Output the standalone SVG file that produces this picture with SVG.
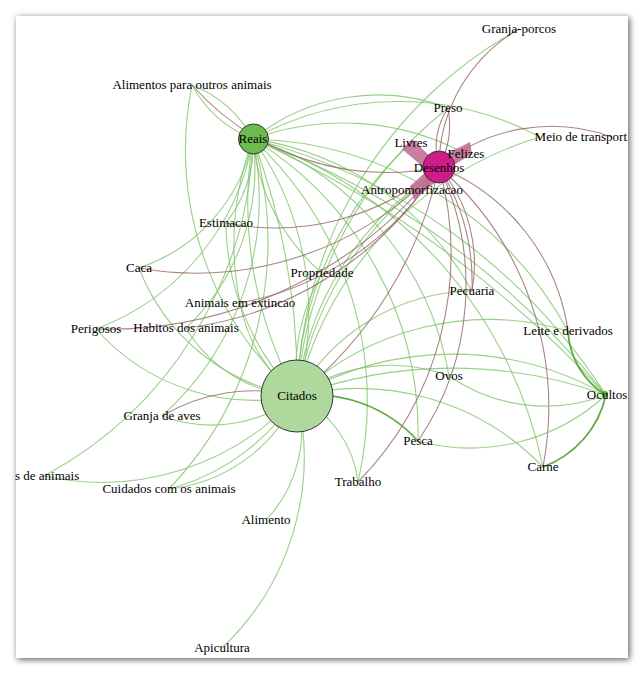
<svg xmlns="http://www.w3.org/2000/svg" width="644" height="674" viewBox="0 0 644 674">
<style>
.g{fill:none;stroke:#80c46a;stroke-width:1.1;stroke-opacity:0.8}
.gt{fill:none;stroke:#4fa42c;stroke-width:1.8;stroke-opacity:0.9}
.b{fill:none;stroke:#956565;stroke-width:1.1;stroke-opacity:0.8}
.w{fill:#c0668f;fill-opacity:0.85;stroke:none}
.lbl{font-family:"Liberation Serif","Times New Roman",serif;font-size:13px;fill:#000;text-anchor:middle}
.hub{stroke:#333;stroke-width:1}
</style>
<defs>
<filter id="sh" x="-5%" y="-5%" width="110%" height="110%">
<feDropShadow dx="1.5" dy="1.5" stdDeviation="3" flood-color="#000" flood-opacity="0.65"/>
</filter>
<clipPath id="box"><rect x="16" y="16" width="612" height="642"/></clipPath>
</defs>
<rect width="644" height="674" fill="#fff"/>
<rect x="16" y="16" width="612" height="642" fill="#fff" filter="url(#sh)"/>
<g id="edges" clip-path="url(#box)">
<g id="edges-reais">
<path class="g" d="M253,139 A120,120 0 0,1 192,85"/>
<path class="g" d="M253,139 A120,120 0 0,0 192,85"/>
<path class="g" d="M253,139 A198,198 0 0,1 448,108"/>
<path class="g" d="M253,139 A260,260 0 0,1 466,154"/>
<path class="g" d="M253,139 A300,300 0 0,1 540,137"/>
<path class="g" d="M253,139 A369,369 0 0,1 568,331"/>
<path class="g" d="M253,139 A800,800 0 0,1 606,395"/>
<path class="g" d="M253,139 A1100,1100 0 0,1 606,395"/>
<path class="g" d="M253,139 A600,600 0 0,1 606,395"/>
<path class="g" d="M253,139 A300,300 0 0,1 472,291"/>
<path class="g" d="M253,139 A440,440 0 0,1 543,467"/>
<path class="g" d="M253,139 A310,310 0 0,1 449,376"/>
<path class="g" d="M253,139 A130,130 0 0,1 226,223"/>
<path class="g" d="M253,139 A172,172 0 0,1 139,268"/>
<path class="g" d="M253,139 A247,247 0 0,1 96,329"/>
<path class="g" d="M253,139 A220,220 0 0,1 186,328"/>
<path class="g" d="M253,139 A300,300 0 0,0 240,303"/>
<path class="g" d="M253,139 A292,292 0 0,1 162,416"/>
<path class="g" d="M253,139 A397,397 0 0,1 44,476"/>
<path class="g" d="M253,139 A360,360 0 0,1 169,489"/>
<path class="g" d="M253,139 A359,359 0 0,1 358,482"/>
<path class="g" d="M253,139 A200,200 0 0,0 322,273"/>
<path class="g" d="M253,139 A344,344 0 0,1 418,441"/>
<path class="g" d="M253,139 A300,300 0 0,1 297,396"/>
<path class="g" d="M253,139 A400,400 0 0,0 297,396"/>
<path class="g" d="M253,139 A700,700 0 0,1 297,396"/>
</g>
<g id="edges-citados">
<path class="g" d="M297,396 A429,429 0 0,1 519,29"/>
<path class="g" d="M297,396 A400,400 0 0,1 448,108"/>
<path class="g" d="M297,396 A350,350 0 0,1 411,143"/>
<path class="g" d="M297,396 A340,340 0 0,1 466,154"/>
<path class="g" d="M297,396 A355,355 0 0,1 540,137"/>
<path class="g" d="M297,396 A300,300 0 0,1 412,190"/>
<path class="g" d="M297,396 A204,204 0 0,1 472,291"/>
<path class="g" d="M297,396 A279,279 0 0,1 568,331"/>
<path class="g" d="M297,396 A309,309 0 0,1 606,395"/>
<path class="g" d="M297,396 A450,450 0 0,1 606,395"/>
<path class="g" d="M297,396 A160,160 0 0,1 449,376"/>
<path class="g" d="M297,396 A256,256 0 0,1 543,467"/>
<path class="gt" d="M297,396 A140,140 0 0,1 418,441"/>
<path class="g" d="M297,396 A110,110 0 0,1 358,482"/>
<path class="g" d="M297,396 A130,130 0 0,1 266,520"/>
<path class="g" d="M297,396 A263,263 0 0,1 222,648"/>
<path class="g" d="M297,396 A158,158 0 0,1 169,489"/>
<path class="g" d="M297,396 A220,220 0 0,1 169,489"/>
<path class="g" d="M297,396 A265,265 0 0,1 44,476"/>
<path class="g" d="M297,396 A140,140 0 0,1 162,416"/>
<path class="g" d="M297,396 A212,212 0 0,1 96,329"/>
<path class="g" d="M297,396 A140,140 0 0,1 186,328"/>
<path class="g" d="M297,396 A150,150 0 0,1 240,303"/>
<path class="g" d="M297,396 A203,203 0 0,1 139,268"/>
<path class="g" d="M297,396 A328,328 0 0,1 192,85"/>
<path class="g" d="M297,396 A250,250 0 0,1 226,223"/>
<path class="g" d="M297,396 A200,200 0 0,1 322,273"/>
</g>
<g id="edges-desenhos">
<path class="b" d="M439,167 A160,160 0 0,1 519,29"/>
<path class="b" d="M439,167 A70,70 0 0,1 448,108"/>
<path class="b" d="M439,167 A90,90 0 0,0 448,108"/>
<path class="b" d="M439,167 A176,176 0 0,1 612,137"/>
<path class="b" d="M439,167 A260,260 0 0,1 192,85"/>
<path class="b" d="M439,167 A250,250 0 0,1 226,223"/>
<path class="b" d="M439,167 A330,330 0 0,1 139,268"/>
<path class="b" d="M439,167 A300,300 0 0,1 240,303"/>
<path class="b" d="M439,167 A350,350 0 0,1 186,328"/>
<path class="b" d="M439,167 A420,420 0 0,1 96,329"/>
<path class="b" d="M439,167 A400,400 0 0,1 297,396"/>
<path class="b" d="M162,416 A180,180 0 0,1 297,396"/>
<path class="b" d="M439,167 A150,150 0 0,1 472,291"/>
<path class="b" d="M439,167 A220,220 0 0,1 472,291"/>
<path class="b" d="M439,167 A325,325 0 0,1 358,482"/>
<path class="b" d="M439,167 A275,275 0 0,1 418,441"/>
<path class="b" d="M439,167 A318,318 0 0,1 543,467"/>
<path class="b" d="M439,167 A209,209 0 0,1 568,331"/>
</g>
<g id="edges-ocultos">
<path class="gt" d="M606,395 A80,80 0 0,1 568,331"/>
<path class="gt" d="M606,395 A100,100 0 0,1 543,467"/>
<path class="g" d="M606,395 A200,200 0 0,1 418,441"/>
<path class="g" d="M606,395 A170,170 0 0,1 449,376"/>
</g>
<g id="edges-thick">
<path class="w" d="M436,162 L412,139 L402,149 L430,173 Z"/>
<path class="w" d="M444,155 L470,142 L472,154 L449,168 Z"/>
<path class="w" d="M428,170 L410,186 L414,200 L438,180 Z"/>
</g>
</g>
<g id="n-reais"><circle class="hub" cx="253.5" cy="139" r="15" fill="#6dbb50"/><text class="lbl" x="253" y="143">Reais</text></g>
<g id="n-desenhos"><circle class="hub" cx="439" cy="167" r="16" fill="#d01c8b"/><text class="lbl" x="439" y="172">Desenhos</text></g>
<g id="n-citados"><circle class="hub" cx="297" cy="396" r="36" fill="#aed89c"/><text class="lbl" x="297" y="400">Citados</text></g>
<g id="n-ocultos"><circle cx="605" cy="394" r="3" fill="#4dac26"/><text class="lbl" x="607" y="399">Ocultos</text></g>
<g id="n-granja-porcos"><text class="lbl" x="519" y="33">Granja-porcos</text></g>
<g id="n-alimentos-outros"><text class="lbl" x="192" y="89">Alimentos para outros animais</text></g>
<g id="n-preso"><text class="lbl" x="448" y="112">Preso</text></g>
<g id="n-livres"><text class="lbl" x="411" y="147">Livres</text></g>
<g id="n-felizes"><text class="lbl" x="466" y="158">Felizes</text></g>
<g id="n-meio-transporte"><text class="lbl" x="627" y="141" style="text-anchor:end">Meio de transport</text></g>
<g id="n-antropomorfizacao"><text class="lbl" x="412" y="194">Antropomorfizacao</text></g>
<g id="n-estimacao"><text class="lbl" x="226" y="227">Estimacao</text></g>
<g id="n-caca"><text class="lbl" x="139" y="272">Caca</text></g>
<g id="n-propriedade"><text class="lbl" x="322" y="277">Propriedade</text></g>
<g id="n-pecuaria"><text class="lbl" x="472" y="295">Pecuaria</text></g>
<g id="n-extincao"><text class="lbl" x="240" y="307">Animais em extincao</text></g>
<g id="n-perigosos"><text class="lbl" x="96" y="333">Perigosos</text></g>
<g id="n-habitos"><text class="lbl" x="186" y="332">Habitos dos animais</text></g>
<g id="n-leite"><text class="lbl" x="568" y="335">Leite e derivados</text></g>
<g id="n-ovos"><text class="lbl" x="449" y="380">Ovos</text></g>
<g id="n-granja-aves"><text class="lbl" x="162" y="420">Granja de aves</text></g>
<g id="n-pesca"><text class="lbl" x="418" y="445">Pesca</text></g>
<g id="n-carne"><text class="lbl" x="543" y="471">Carne</text></g>
<g id="n-de-animais"><text class="lbl" x="15" y="480" style="text-anchor:start">s de animais</text></g>
<g id="n-cuidados"><text class="lbl" x="169" y="493">Cuidados com os animais</text></g>
<g id="n-trabalho"><text class="lbl" x="358" y="486">Trabalho</text></g>
<g id="n-alimento"><text class="lbl" x="266" y="524">Alimento</text></g>
<g id="n-apicultura"><text class="lbl" x="222" y="652">Apicultura</text></g>
</svg>
